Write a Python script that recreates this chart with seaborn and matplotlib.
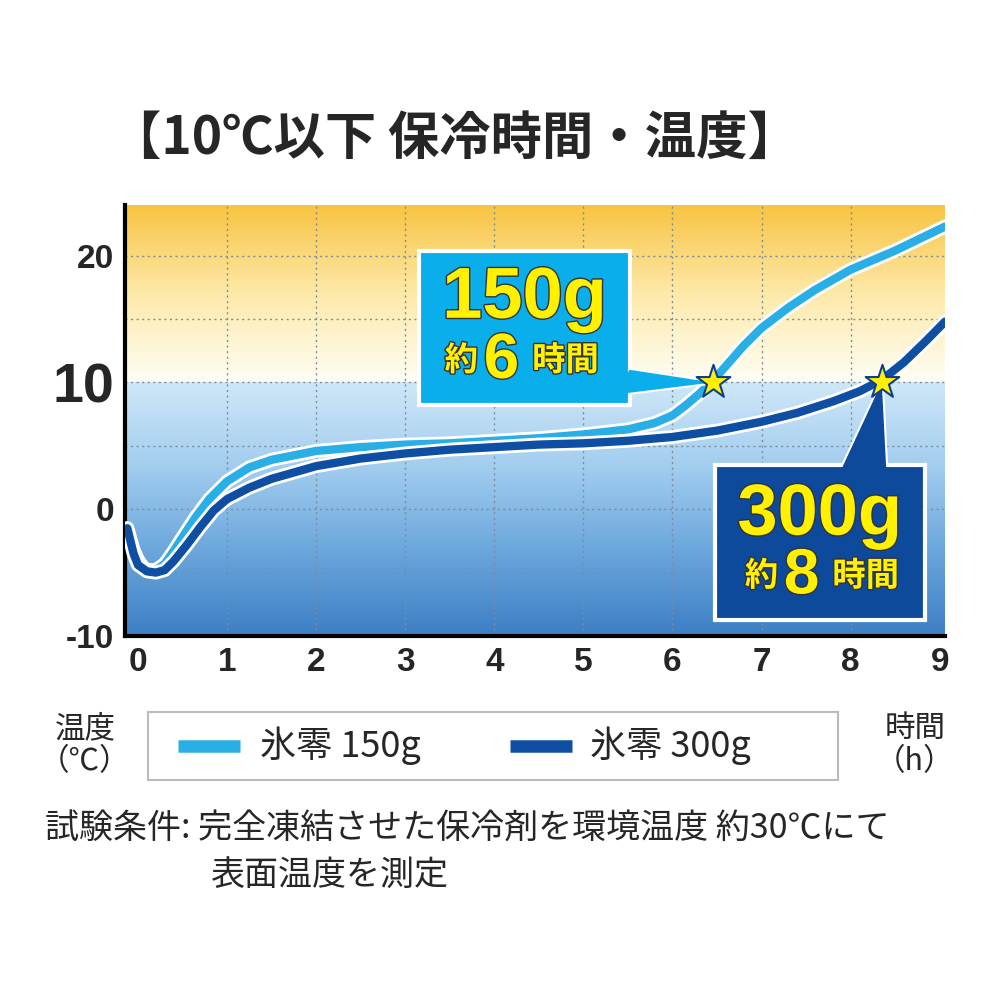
import matplotlib
matplotlib.use("Agg")
import matplotlib.pyplot as plt
import seaborn as sns
import numpy as np
import pandas as pd
from matplotlib.patches import Rectangle, Polygon
from matplotlib.lines import Line2D
from matplotlib.colors import LinearSegmentedColormap
import matplotlib.patheffects as pe

sns.set_style("white")
plt.rcParams['font.family'] = ['Noto Sans CJK JP', 'DejaVu Sans']

hours_150 = [-0.12, -0.05, 0.0, 0.05, 0.1, 0.2, 0.3, 0.4, 0.5, 0.65, 0.8, 1.0, 1.25, 1.5, 2.0, 2.5, 3.0, 3.5, 4.0, 4.5, 5.0, 5.5, 5.8, 6.0, 6.15, 6.3, 6.45, 6.6, 6.8, 7.0, 7.3, 7.6, 8.0, 8.5, 9.06]
temp_150 = [-1.5, -3.2, -4.0, -4.5, -4.8, -4.8, -4.3, -3.3, -2.2, -0.6, 0.8, 2.2, 3.3, 3.9, 4.6, 4.9, 5.1, 5.2, 5.4, 5.6, 5.9, 6.3, 6.8, 7.4, 8.2, 9.1, 10.1, 11.3, 12.9, 14.3, 15.9, 17.3, 18.9, 20.4, 22.3]
hours_300 = [-0.12, -0.05, 0.0, 0.1, 0.2, 0.3, 0.4, 0.55, 0.7, 0.85, 1.0, 1.25, 1.5, 2.0, 2.5, 3.0, 3.5, 4.0, 4.5, 5.0, 5.5, 6.0, 6.5, 7.0, 7.4, 7.8, 8.1, 8.35, 8.6, 8.85, 9.06]
temp_300 = [-1.5, -3.5, -4.4, -4.9, -5.0, -4.8, -4.1, -2.8, -1.4, -0.1, 0.8, 1.7, 2.4, 3.4, 4.0, 4.4, 4.7, 4.9, 5.1, 5.2, 5.4, 5.7, 6.2, 6.9, 7.6, 8.5, 9.3, 10.2, 11.6, 13.3, 14.8]
star_x = [6.45, 8.35]
star_y = [10, 10]
xticks = list(range(0, 10))
yticks = [-10, 0, 10, 20]
labels = ["氷零 150g", "氷零 300g"]
light, dark = "#2aaee6", "#0f4fa3"

fig = plt.figure(figsize=(10, 10), dpi=100)
ax = fig.add_axes([0.125, 0.364, 0.82, 0.431])
xmin, xmax, ymin, ymax = -0.146, 9.06, -10, 24

grad = np.linspace(0, 1, 256)[:, None]
cm_top = LinearSegmentedColormap.from_list("t", ["#fffef6", "#fde9a8", "#f8c340"])
cm_bot = LinearSegmentedColormap.from_list("b", ["#cfe7f8", "#a2cdef", "#6aa6dc", "#3d7fc4"])
ax.imshow(grad, extent=[xmin, xmax, 10, ymax], origin="lower", cmap=cm_top, aspect="auto", zorder=0)
ax.imshow(grad, extent=[xmin, xmax, ymin, 10], origin="upper", cmap=cm_bot, aspect="auto", zorder=0)

df = pd.concat([pd.DataFrame({"h": hours_150, "t": temp_150, "s": labels[0]}),
                pd.DataFrame({"h": hours_300, "t": temp_300, "s": labels[1]})])
sns.lineplot(data=df, x="h", y="t", hue="s", palette={labels[0]: light, labels[1]: dark},
             linewidth=6, ax=ax, legend=False, sort=False, zorder=3)
for ln in ax.lines:
    ln.set_path_effects([pe.Stroke(linewidth=10, foreground="white"), pe.Normal()])
    ln.set_solid_joinstyle("round")

ax.set_xlim(xmin, xmax)
ax.set_ylim(ymin, ymax)
for g in [1, 2, 3, 4, 5, 6, 7, 8]:
    ax.axvline(g, color="#7f8c99", ls=(0, (1.5, 2.5)), lw=1, zorder=1)
for g in [-5, 0, 5, 10, 15, 20]:
    ax.axhline(g, color="#7f8c99", ls=(0, (1.5, 2.5)), lw=1, zorder=1)

ax.set_xticks(xticks)
ax.set_xticklabels([str(v) for v in xticks], fontsize=24, fontweight="bold", family="Liberation Sans")
ax.set_yticks(yticks)
ax.set_yticklabels([str(v) for v in yticks], fontsize=24, fontweight="bold", family="Liberation Sans")
ax.get_yticklabels()[2].set_fontsize(40)
ax.tick_params(length=0, pad=8)
ax.set_xlabel("")
ax.set_ylabel("")
for s in ["top", "right"]:
    ax.spines[s].set_visible(False)
for s in ["left", "bottom"]:
    ax.spines[s].set_linewidth(3)
    ax.spines[s].set_color("black")

def callout(x0, x1, y0, y1, tri, fc, big, num, numx, kx, jx, y_big, y_small):
    ax.add_patch(Polygon(tri, closed=True, fc=fc, ec="white", lw=3, zorder=5))
    ax.add_patch(Rectangle((x0, y0), x1 - x0, y1 - y0, fc=fc, ec="white", lw=3, zorder=6))
    ax.add_patch(Polygon(tri, closed=True, fc=fc, ec="none", lw=0, zorder=6.5))
    eff = [pe.withStroke(linewidth=2, foreground="#333333")]
    kw = dict(color="#fff100", fontweight="bold", zorder=7, va="center", path_effects=eff)
    ax.text((x0 + x1) / 2, y_big, big, ha="center", fontsize=52, family="Liberation Sans", **kw)
    ax.text(kx, y_small, "約", ha="center", fontsize=24, **kw)
    ax.text(numx, y_small, num, ha="center", fontsize=46, family="Liberation Sans", **kw)
    ax.text(jx, y_small, "時間", ha="center", fontsize=24, **kw)

callout(3.16, 5.52, 8.2, 20.4, [(5.3, 9.0), (5.52, 11.0), (6.45, 10)], "#0aaeea",
        "150g", "6", 4.08, 3.63, 4.8, 16.6, 11.7)
callout(6.48, 8.83, -8.74, 3.49, [(7.9, 3.2), (8.4, 3.2), (8.35, 10)], "#0d4a9c",
        "300g", "8", 7.45, 7.0, 8.17, -0.5, -5.3)
ax.scatter(star_x, star_y, marker="*", s=650, c="#fff100", edgecolors="#0d3f8c", linewidths=1.5, zorder=8)

fig.text(0.11, 0.862, "【10℃以下 保冷時間・温度】", fontsize=37, fontweight="bold", va="center")

fig.add_artist(Rectangle((0.148, 0.22), 0.69, 0.068, transform=fig.transFigure, fc="white", ec="#bbbbbb", lw=1.5))
fig.add_artist(Line2D([0.178, 0.240], [0.254, 0.254], transform=fig.transFigure, color=light, lw=9, solid_capstyle="butt"))
fig.text(0.260, 0.254, labels[0], fontsize=26, va="center")
fig.add_artist(Line2D([0.510, 0.572], [0.254, 0.254], transform=fig.transFigure, color=dark, lw=9, solid_capstyle="butt"))
fig.text(0.590, 0.254, labels[1], fontsize=26, va="center")

fig.text(0.085, 0.255, "温度\n（℃）", fontsize=22, ha="center", va="center", linespacing=1.05)
fig.text(0.915, 0.255, "時間\n（h）", fontsize=22, ha="center", va="center", linespacing=1.05)

fig.text(0.045, 0.172, "試験条件: 完全凍結させた保冷剤を環境温度 約30℃にて", fontsize=24.5, va="center")
fig.text(0.210, 0.125, "表面温度を測定", fontsize=24.5, va="center")

fig.savefig("out.png", dpi=100)
